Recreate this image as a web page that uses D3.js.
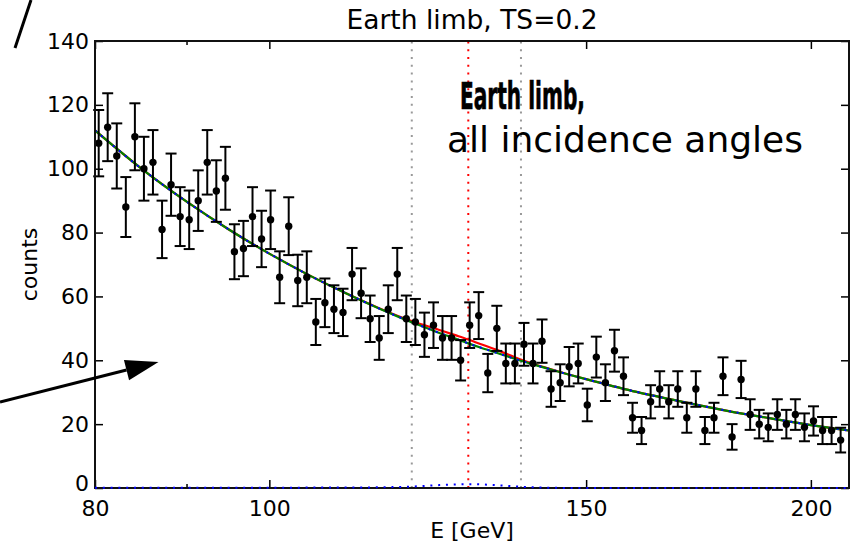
<!DOCTYPE html>
<html>
<head>
<meta charset="utf-8">
<script src="https://cdn.jsdelivr.net/npm/d3@7"></script>
<style>
  body { margin: 0; background: #fff; }
  svg { display: block; }
  text { font-family: "DejaVu Sans", "Liberation Sans", sans-serif; fill: #000; }
</style>
</head>
<body>
<svg id="chart" width="860" height="548"></svg>
<script>
// Counts per log-spaced energy bin (bin centres in GeV)
const binEnergy = [
  80.38, 81.31, 82.26, 83.22, 84.19, 85.17, 86.16, 87.17, 88.18, 89.21,
  90.25, 91.30, 92.36, 93.44, 94.53, 95.63, 96.74, 97.87, 99.01, 100.16,
  101.33, 102.51, 103.70, 104.91, 106.13, 107.37, 108.62, 109.89, 111.17, 112.46,
  113.77, 115.10, 116.44, 117.79, 119.16, 120.55, 121.96, 123.38, 124.81, 126.27,
  127.74, 129.23, 130.73, 132.26, 133.80, 135.35, 136.93, 138.53, 140.14, 141.77,
  143.42, 145.10, 146.78, 148.49, 150.22, 151.97, 153.75, 155.54, 157.35, 159.18,
  161.03, 162.91, 164.81, 166.73, 168.67, 170.63, 172.62, 174.63, 176.67, 178.72,
  180.81, 182.91, 185.04, 187.20, 189.38, 191.59, 193.82, 196.07, 198.36, 200.67,
  203.01, 205.37, 207.76
];
const binCounts = [
  108, 113, 104, 88, 110, 100, 102, 81, 95, 85,
  84, 90, 102, 93, 97, 74, 75, 85, 78, 84,
  66, 82, 65, 66, 52, 58, 56, 55, 67, 61,
  53, 47, 56, 67, 53, 52, 48, 51, 47, 47,
  40, 51, 54, 36, 50, 39, 39, 45, 39, 46,
  31, 33, 38, 39, 26, 41, 33, 43, 35, 22,
  18, 27, 31, 27, 31, 22, 31, 18, 22, 35,
  16, 34, 23, 20, 19, 23, 20, 23, 19, 21,
  18, 18, 15
];

// Fitted model sampled on an energy grid
const modelEnergy = [80, 85, 90, 95, 100, 105, 110, 115, 118, 121, 124, 127, 129, 131, 134, 137, 140, 143, 147, 150, 160, 170, 180, 190, 200, 210];
const backgroundCounts = [112.0, 99.8, 89.6, 80.9, 73.4, 66.9, 61.3, 56.3, 53.6, 51.1, 48.8, 46.7, 45.3, 44.0, 42.2, 40.4, 38.8, 37.3, 35.4, 34.1, 30.1, 26.9, 24.1, 21.8, 19.7, 18.0];
const totalCounts = [112.0, 99.8, 89.6, 80.9, 73.4, 66.9, 61.3, 56.4, 53.8, 51.6, 49.7, 47.8, 46.5, 45.1, 43.1, 40.9, 39.0, 37.4, 35.4, 34.1, 30.1, 26.9, 24.1, 21.8, 19.7, 18.0];
const lineCounts = [0.1, 0.1, 0.1, 0.1, 0.1, 0.12, 0.15, 0.22, 0.32, 0.55, 0.88, 1.13, 1.2, 1.13, 0.85, 0.49, 0.22, 0.08, 0.01, 0, 0, 0, 0, 0, 0, 0];

// Line position and energy window
const lineEnergy = 129;
const windowEdges = [120, 138];

// Axis ticks
const xTickValues = [80, 100, 150, 200];
const xMinorTicks = [90];
const yTickValues = [0, 20, 40, 60, 80, 100, 120, 140];

const W = 860, H = 548;
const m = { top: 41, right: 11, bottom: 60, left: 95 };
const svg = d3.select("#chart");

const x = d3.scaleLog().domain([80, 210]).range([m.left, W - m.right]);
const y = d3.scaleLinear().domain([0, 140]).range([H - m.bottom, m.top]);

const plot = svg.append("g");
const dotted = "2,5.8";

// Vertical reference lines
plot.selectAll("line.win").data(windowEdges).join("line")
  .attr("x1", d => x(d)).attr("x2", d => x(d))
  .attr("y1", y(0)).attr("y2", y(140))
  .attr("stroke", "#999").attr("stroke-width", 2)
  .attr("stroke-dasharray", dotted);
plot.append("line")
  .attr("x1", x(lineEnergy)).attr("x2", x(lineEnergy))
  .attr("y1", y(0)).attr("y2", y(140))
  .attr("stroke", "#ff0000").attr("stroke-width", 2)
  .attr("stroke-dasharray", dotted);

// Model curves
const mk = vals => d3.line()
  .x((d, i) => x(modelEnergy[i]))
  .y((d, i) => y(vals[i]))
  .curve(d3.curveMonotoneX)(vals);

plot.append("path").attr("d", mk(totalCounts))
  .attr("fill", "none").attr("stroke", "#ff0000").attr("stroke-width", 2.2);
plot.append("path").attr("d", mk(backgroundCounts))
  .attr("fill", "none").attr("stroke", "#008000").attr("stroke-width", 2.2);
plot.append("path").attr("d", mk(backgroundCounts))
  .attr("fill", "none").attr("stroke", "#0000ff").attr("stroke-width", 2)
  .attr("stroke-dasharray", dotted);

// Data points with Poisson error bars
const pts = binEnergy.map((e, i) => ({ e, n: binCounts[i], s: Math.sqrt(binCounts[i]) }));
const g = plot.append("g").attr("stroke", "#000").attr("stroke-width", 2);
g.selectAll("line.bar").data(pts).join("line")
  .attr("x1", d => x(d.e)).attr("x2", d => x(d.e))
  .attr("y1", d => y(d.n - d.s)).attr("y2", d => y(d.n + d.s));
g.selectAll("line.capT").data(pts).join("line")
  .attr("x1", d => x(d.e) - 5.5).attr("x2", d => x(d.e) + 5.5)
  .attr("y1", d => y(d.n + d.s)).attr("y2", d => y(d.n + d.s));
g.selectAll("line.capB").data(pts).join("line")
  .attr("x1", d => x(d.e) - 5.5).attr("x2", d => x(d.e) + 5.5)
  .attr("y1", d => y(d.n - d.s)).attr("y2", d => y(d.n - d.s));
plot.selectAll("circle").data(pts).join("circle")
  .attr("cx", d => x(d.e)).attr("cy", d => y(d.n)).attr("r", 3.7)
  .attr("fill", "#000");

// Axes (ticks pointing inward on all four sides)
const tickFont = 22;
const axB = svg.append("g").attr("transform", `translate(0,${y(0)})`)
  .call(d3.axisBottom(x).tickValues(xTickValues).tickFormat(d3.format("d"))
    .tickSizeInner(-8).tickSizeOuter(0).tickPadding(12));
const axT = svg.append("g").attr("transform", `translate(0,${y(140)})`)
  .call(d3.axisTop(x).tickValues(xTickValues).tickFormat("")
    .tickSizeInner(-8).tickSizeOuter(0));
const axL = svg.append("g").attr("transform", `translate(${x(80)},0)`)
  .call(d3.axisLeft(y).tickValues(yTickValues).tickFormat(d3.format("d"))
    .tickSizeInner(-8).tickSizeOuter(0).tickPadding(6));
const axR = svg.append("g").attr("transform", `translate(${x(210)},0)`)
  .call(d3.axisRight(y).tickValues(yTickValues).tickFormat("")
    .tickSizeInner(-8).tickSizeOuter(0));
[axB, axT, axL, axR].forEach(a => {
  a.select(".domain").remove();
  a.selectAll(".tick line").attr("stroke", "#000").attr("stroke-width", 1.5);
  a.selectAll(".tick text").attr("font-size", tickFont)
    .attr("font-family", "DejaVu Sans, sans-serif").attr("fill", "#000");
});
// the zero label sits just above the corner
axL.selectAll(".tick text").filter(d => d === 0).attr("dy", "0.12em");

// Minor ticks
svg.selectAll("line.minorB").data(xMinorTicks).join("line")
  .attr("x1", d => x(d)).attr("x2", d => x(d))
  .attr("y1", y(0)).attr("y2", y(0) - 4)
  .attr("stroke", "#000").attr("stroke-width", 1.5);
svg.selectAll("line.minorT").data(xMinorTicks).join("line")
  .attr("x1", d => x(d)).attr("x2", d => x(d))
  .attr("y1", y(140)).attr("y2", y(140) + 4)
  .attr("stroke", "#000").attr("stroke-width", 1.5);

// Frame
svg.append("rect")
  .attr("x", x(80)).attr("y", y(140))
  .attr("width", x(210) - x(80)).attr("height", y(0) - y(140))
  .attr("fill", "none").attr("stroke", "#111").attr("stroke-width", 2);

// Line component, drawn over the lower spine
svg.append("path").attr("d", mk(lineCounts))
  .attr("fill", "none").attr("stroke", "#0000ff").attr("stroke-width", 2)
  .attr("stroke-dasharray", dotted);

// Titles and labels
const cx = (x(80) + x(210)) / 2;
svg.append("text").attr("x", cx).attr("y", 29)
  .attr("text-anchor", "middle").attr("font-size", 26.5)
  .text("Earth limb, TS=0.2");
svg.append("text").attr("x", cx).attr("y", 538)
  .attr("text-anchor", "middle").attr("font-size", 22)
  .text("E [GeV]");
svg.append("text")
  .attr("transform", `translate(37,${(y(0) + y(140)) / 2}) rotate(-90)`)
  .attr("text-anchor", "middle").attr("font-size", 22)
  .text("counts");

// Annotation
svg.append("text").attr("x", 460).attr("y", 109)
  .attr("font-family", "'Liberation Sans', Arial, sans-serif")
  .attr("font-weight", "bold").attr("font-size", 37)
  .attr("stroke", "#000").attr("stroke-width", 0.7)
  .attr("textLength", 125).attr("lengthAdjust", "spacingAndGlyphs")
  .text("Earth limb,");
svg.append("text").attr("x", 447).attr("y", 152)
  .attr("font-size", 36)
  .text("all incidence angles");

// Pointers outside the axes
svg.append("line").attr("x1", 15).attr("y1", 48).attr("x2", 31).attr("y2", 0)
  .attr("stroke", "#000").attr("stroke-width", 3);
const tip = [158.5, 362], tail = [0, 402];
const ang = Math.atan2(tip[1] - tail[1], tip[0] - tail[0]);
const hl = 33, hw = 10.5;
const base = [tip[0] - hl * Math.cos(ang), tip[1] - hl * Math.sin(ang)];
svg.append("line").attr("x1", tail[0]).attr("y1", tail[1])
  .attr("x2", base[0]).attr("y2", base[1])
  .attr("stroke", "#000").attr("stroke-width", 3);
svg.append("path")
  .attr("d", d3.line()([
    tip,
    [base[0] + hw * Math.sin(ang), base[1] - hw * Math.cos(ang)],
    [base[0] - hw * Math.sin(ang), base[1] + hw * Math.cos(ang)]
  ]) + "Z")
  .attr("fill", "#000");
</script>
</body>
</html>
